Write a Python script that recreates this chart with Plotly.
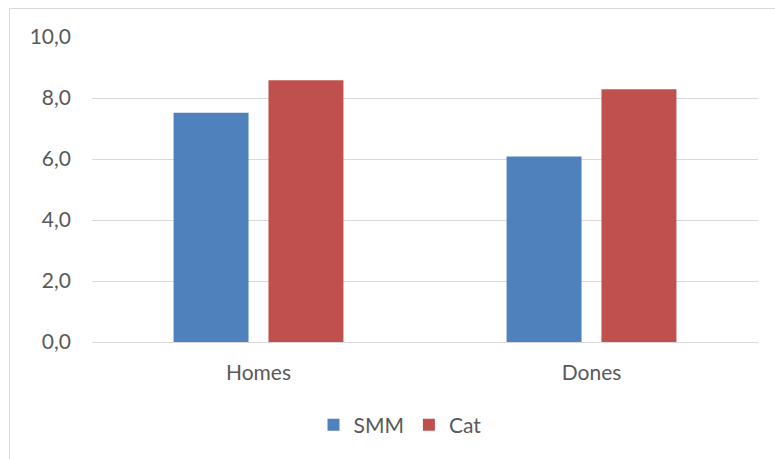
import plotly.graph_objects as go

categories = ["Homes", "Dones"]
smm = [7.52, 6.08]
cat = [8.58, 8.29]
y_ticks = [0, 2, 4, 6, 8, 10]

W, H = 775, 459
L, R, T, B = 92, 17, 37, 117
pw, ph = W - L - R, H - T - B

fig = go.Figure()
fig.add_bar(name="SMM", x=categories, y=smm, marker_color="#4F81BD",
            marker_line_width=0)
fig.add_bar(name="Cat", x=categories, y=cat, marker_color="#C0504D",
            marker_line_width=0)

font = dict(family="Lato, 'Open Sans', sans-serif", size=21, color="#595959")

fig.update_layout(
    width=W, height=H,
    margin=dict(l=L, r=R, t=T, b=B),
    paper_bgcolor="white", plot_bgcolor="white",
    barmode="group", bargap=0.43, bargroupgap=0.21,
    separators=", ",
    font=font,
    showlegend=True,
    legend=dict(orientation="h", x=(400 - L) / pw, xanchor="center",
                y=(342 - 425) / ph, yanchor="middle",
                font=dict(size=21, color="#595959"),
                itemwidth=30, traceorder="normal"),
    xaxis=dict(showgrid=False, showline=True, linecolor="#d9d9d9",
               linewidth=1, ticks="", ticklabelstandoff=12,
               tickfont=font),
    yaxis=dict(range=[0, 10], tickvals=y_ticks, tickformat=".1f",
               showgrid=True, gridcolor="#d9d9d9", gridwidth=1,
               zeroline=False, showline=False, ticks="",
               ticklabelstandoff=20, tickfont=font),
    shapes=[dict(type="rect", xref="paper", yref="paper",
                 x0=(9.5 - L) / pw, x1=1.2,
                 y0=-0.6, y1=(342 - 8.5) / ph,
                 line=dict(color="#d9d9d9", width=1), layer="below")],
)

fig.write_html("out.html")
